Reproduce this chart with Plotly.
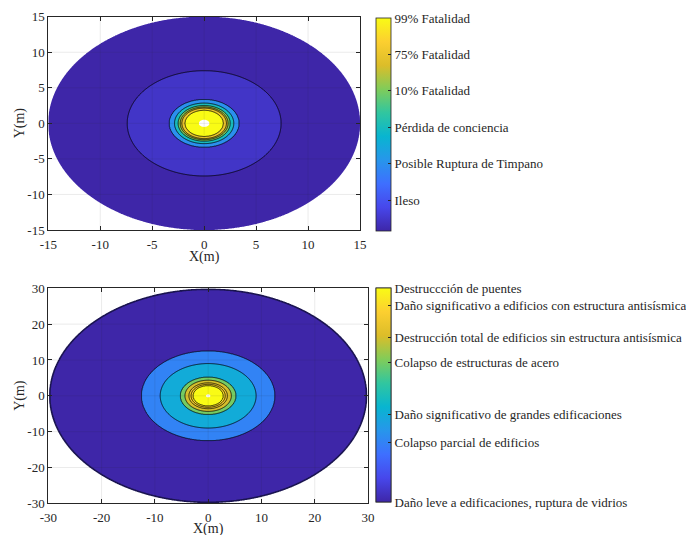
import numpy as np
import plotly.graph_objects as go

# ---------------- data ----------------
# Top panel: human effects (radii in m, outer -> inner; last value = empty centre)
top_ring_radii = [15.0, 7.4, 3.35, 2.85, 2.5, 2.3, 2.15, 1.85, 0.5]
top_band_values = [0.15, 0.45, 2.0, 3.0, 4.0, 4.6, 5.0, 6.0]
top_tick_values = [1, 2, 3, 4, 5, 6]
top_tick_labels = ["Ileso", "Posible Ruptura de Timpano", "Pérdida de conciencia",
                   "10% Fatalidad", "75% Fatalidad", "99% Fatalidad"]
top_cbar_range = [0.15, 6.0]
top_axis_ticks = [-15, -10, -5, 0, 5, 10, 15]

# Bottom panel: structural effects
bot_ring_radii = [29.7, 12.5, 9.0, 5.2, 4.35, 3.6, 3.2, 2.85, 0.4]
bot_band_values = [0, 28, 41, 65, 77, 85, 92, 100]
bot_tick_values = [0, 28, 41, 65, 77, 92, 100]
bot_tick_labels = ["Daño leve a edificaciones, ruptura de vidrios",
                   "Colapso parcial de edificios",
                   "Daño significativo de grandes edificaciones",
                   "Colapso de estructuras de acero",
                   "Destrucción total de edificios sin estructura antisísmica",
                   "Daño significativo a edificios con estructura antisísmica",
                   "Destruccción de puentes"]
bot_cbar_range = [0, 100]
bot_minor_ticks = list(range(0, 101, 5))
bot_axis_ticks = [-30, -20, -10, 0, 10, 20, 30]

# ---------------- helpers ----------------
PARULA_KEYS = [(62, 38, 168), (71, 71, 235), (62, 111, 255), (39, 150, 235), (8, 181, 208),
               (49, 198, 159), (129, 204, 89), (220, 189, 41), (252, 207, 48), (249, 251, 21)]
PARULA = [[i / 9, "rgb(%d,%d,%d)" % c] for i, c in enumerate(PARULA_KEYS)]


def parula(f):
    f = min(max(f, 0.0), 1.0) * 9
    i = min(int(f), 8)
    t = f - i
    a, b = PARULA_KEYS[i], PARULA_KEYS[i + 1]
    return "rgb(%d,%d,%d)" % tuple(round(x + (y - x) * t) for x, y in zip(a, b))


FONT = "Liberation Serif"
INK = "#262626"
W, H = 694, 535
OFF = 8  # page body margin


def px(v):
    return (v - OFF) / W


def py(v):
    return 1 - (v - OFF) / H


def ring_traces(radii, band_values, crange, lim, n, outer_width, xa, ya):
    radii = np.asarray(radii, float)
    K = len(radii) - 1
    xs = np.linspace(-lim, lim, n).astype(np.float32)
    X, Y = np.meshgrid(xs, xs)
    R = np.hypot(X, Y)
    xp = np.concatenate([[0.0], radii[::-1], [radii[0] * 3]])
    fp = np.concatenate([[K + 1.0], np.arange(K, -1, -1, dtype=float), [-1.0]])
    Z = np.interp(R, xp, fp).astype(np.float32)
    cols = ["white"] + [parula((v - crange[0]) / (crange[1] - crange[0])) for v in band_values] + ["white"]
    cs = [[j / (K + 1), c] for j, c in enumerate(cols)]
    out = [go.Contour(x=xs, y=xs, z=Z, colorscale=cs, showscale=False, autocontour=False,
                      contours=dict(start=0, end=K, size=1, coloring="fill", showlines=False),
                      line=dict(width=0), hoverinfo="skip", xaxis=xa, yaxis=ya),
           go.Contour(x=xs, y=xs, z=Z, showscale=False, autocontour=False,
                      contours=dict(start=1, end=K - 1, size=1, coloring="none"),
                      line=dict(color="black", width=0.8), hoverinfo="skip", xaxis=xa, yaxis=ya)]
    if outer_width:
        out.append(go.Contour(x=xs, y=xs, z=Z, showscale=False, autocontour=False,
                              contours=dict(start=0, end=0.5, size=1, coloring="none"),
                              line=dict(color="#1a1450", width=outer_width), hoverinfo="skip",
                              xaxis=xa, yaxis=ya))
    return out


fig = go.Figure()
for t in ring_traces(top_ring_radii, top_band_values, top_cbar_range, 15, 601, 0, "x", "y"):
    fig.add_trace(t)
for t in ring_traces(bot_ring_radii, bot_band_values, bot_cbar_range, 30, 601, 1.6, "x2", "y2"):
    fig.add_trace(t)


def cbar_trace(crange, tickvals, ticktext, x, y, length, xa, ya, labels=True, ticklen=3, fsize=13):
    return go.Scatter(x=[None], y=[None], mode="markers", xaxis=xa, yaxis=ya, showlegend=False,
                      hoverinfo="skip",
                      marker=dict(color=[crange[0]], cmin=crange[0], cmax=crange[1], colorscale=PARULA,
                                  showscale=True,
                                  colorbar=dict(x=x, xanchor="left", xref="paper", y=y, yanchor="middle",
                                                len=length, lenmode="pixels", thickness=15,
                                                thicknessmode="pixels", outlinecolor=INK, outlinewidth=0.8,
                                                tickmode="array", tickvals=tickvals,
                                                ticktext=ticktext if labels else None,
                                                showticklabels=labels, ticks="inside", ticklen=ticklen,
                                                tickcolor=INK, tickwidth=0.8,
                                                tickfont=dict(family=FONT, size=fsize, color=INK),
                                                xpad=0, ypad=0)))


fig.add_trace(cbar_trace(top_cbar_range, top_tick_values, top_tick_labels,
                         px(375.7), py(124.5), 213, "x", "y"))
fig.add_trace(cbar_trace(bot_cbar_range, bot_minor_ticks, None,
                         px(375.7), py(395), 214, "x2", "y2", labels=False, ticklen=2))
fig.add_trace(cbar_trace(bot_cbar_range, bot_tick_values, bot_tick_labels,
                         px(375.7), py(395), 214, "x2", "y2"))


def axis(ticks, domain, anchor, standoff):
    return dict(domain=domain, anchor=anchor, range=[ticks[0], ticks[-1]], tickmode="array",
                tickvals=ticks, ticktext=[str(v) for v in ticks], showline=True, mirror="ticks",
                linecolor=INK, linewidth=1, ticks="inside", ticklen=4, tickcolor=INK, tickwidth=0.8,
                showgrid=True, gridcolor="#e3e3e3", gridwidth=0.8, zeroline=False, automargin=False,
                ticklabelstandoff=standoff,
                tickfont=dict(family=FONT, size=13, color=INK))


fig.update_layout(
    width=W, height=H, margin=dict(l=0, r=0, t=0, b=0, autoexpand=False),
    paper_bgcolor="white", plot_bgcolor="white", showlegend=False,
    xaxis=axis(top_axis_ticks, [px(48.3), px(360)], "y", 2),
    yaxis=axis(top_axis_ticks, [py(230), py(16.7)], "x", 0),
    xaxis2=axis(bot_axis_ticks, [px(48.3), px(368)], "y2", 2),
    yaxis2=axis(bot_axis_ticks, [py(503.3), py(288.3)], "x2", 0),
)

# axis titles
tfont = dict(family=FONT, size=14, color=INK)
ann = [
    dict(text="X(m)", x=px(204.2), y=py(257), textangle=0),
    dict(text="Y(m)", x=px(20), y=py(123.3), textangle=-90),
    dict(text="X(m)", x=px(208.2), y=py(529), textangle=0),
    dict(text="Y(m)", x=px(20), y=py(395.8), textangle=-90),
]
fig.update_layout(annotations=[dict(a, xref="paper", yref="paper", showarrow=False, font=tfont,
                                    xanchor="center", yanchor="middle") for a in ann])

# faint grid drawn over the filled contours (as MATLAB does)
shapes = []
for ticks, xr, yr in [(top_axis_ticks, "x", "y"), (bot_axis_ticks, "x2", "y2")]:
    for v in ticks[1:-1]:
        shapes.append(dict(type="line", xref=xr, yref=yr + " domain", x0=v, x1=v, y0=0, y1=1,
                           line=dict(color="rgba(38,38,38,0.12)", width=0.8), layer="above"))
        shapes.append(dict(type="line", xref=xr + " domain", yref=yr, x0=0, x1=1, y0=v, y1=v,
                           line=dict(color="rgba(38,38,38,0.12)", width=0.8), layer="above"))
fig.update_layout(shapes=shapes)

fig.write_html("out.html")
